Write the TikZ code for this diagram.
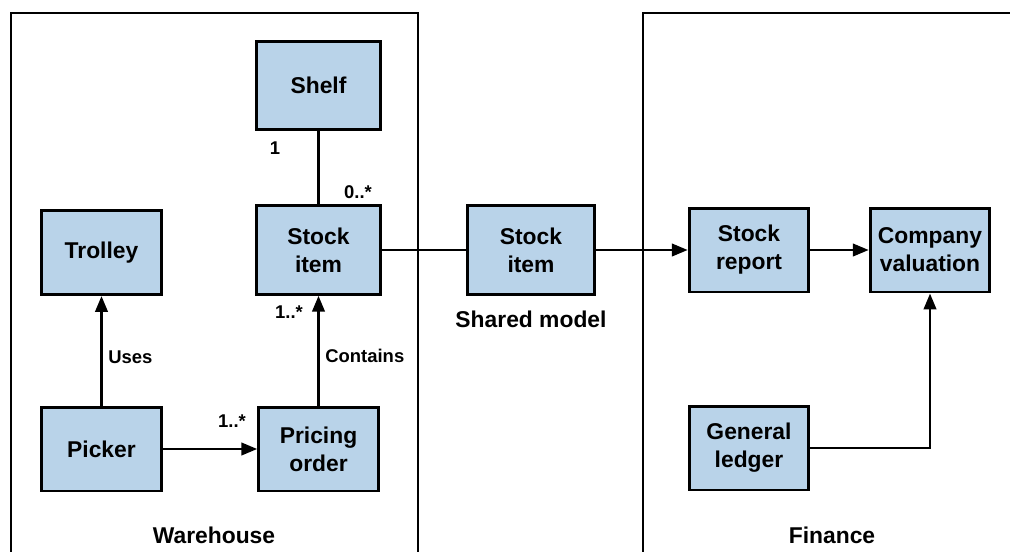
\documentclass[tikz,border=0pt]{standalone}
\usepackage{fontspec}
\setmainfont{Liberation Sans}
\usetikzlibrary{arrows.meta}
\definecolor{boxblue}{RGB}{185,211,233}

\begin{document}
\begin{tikzpicture}[x=0.02cm, y=-0.02cm, >={Triangle[length=9pt,width=7pt]},
  entity/.style={draw, line width=1.7pt, fill=boxblue, align=center, inner sep=0pt,
    minimum width=2.39cm, minimum height=1.68cm, font=\fontsize{13}{16}\bfseries\selectfont},
  link/.style={line width=1.6pt},
  mult/.style={anchor=base, inner sep=0pt, font=\fontsize{10.5}{12}\bfseries\selectfont},
  area/.style={anchor=base, inner sep=0pt, font=\fontsize{13}{16}\bfseries\selectfont}]
  \useasboundingbox (0,0) rectangle (1010,551);
  \clip (0,0) rectangle (1010,551);
  % Context borders
  \draw[link] (11,580) -- (11,13) -- (418,13) -- (418,580);
  \draw[link] (643,580) -- (643,13) -- (1030,13);
  % Warehouse
  \node[entity, minimum width=2.49cm, minimum height=1.77cm] (shelf) at (318.5,85.5) {Shelf};
  \node[entity, minimum width=2.49cm, minimum height=1.77cm] (stockw) at (318.5,250) {Stock\\item};
  \node[entity] (trolley) at (101.5,252.5) {Trolley};
  \node[entity] (picker) at (101.5,449) {Picker};
  \node[entity] (pricing) at (318.5,449) {Pricing\\order};
  \draw[link] (shelf) -- (stockw);
  \draw[link, ->] (picker) -- (trolley);
  \draw[link, ->] (picker) -- (pricing);
  \draw[link, ->] (pricing) -- (stockw);
  \node[mult] (mshelf) at (275,154) {1};
  \node[mult] (mstock) at (358,198) {0..*};
  \node[mult] (mitems) at (289,318) {1..*};
  \node[mult] (morder) at (232,427) {1..*};
  \node[mult, anchor=base west] (uses) at (108,363) {Uses};
  \node[mult, anchor=base west] (contains) at (325,362) {Contains};
  \node[area] (warehouse) at (214,543) {Warehouse};
  % Shared model
  \node[entity, minimum width=2.55cm, minimum height=1.79cm] (shared) at (531,250) {Stock\\item};
  \node[area] (sharedlbl) at (531,327) {Shared model};
  \draw[link] (stockw) -- (shared);
  % Finance
  \node[entity] (report) at (749,250) {Stock\\report};
  \node[entity] (company) at (930,250) {Company\\valuation};
  \node[entity] (ledger) at (749,448) {General\\ledger};
  \draw[link, ->] (shared) -- (report);
  \draw[link, ->] (report) -- (company);
  \draw[link, ->] (ledger) -| (company);
  \node[area] (finance) at (832,543) {Finance};
\end{tikzpicture}
\end{document}
